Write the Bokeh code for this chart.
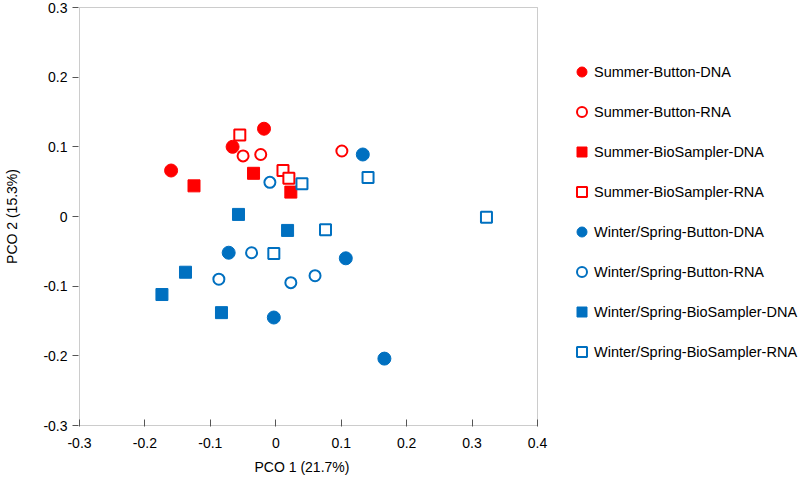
from bokeh.plotting import figure
from bokeh.models import (Legend, LegendItem, FixedTicker, CustomJSTickFormatter, Range1d,
                          BoxAnnotation, Title)
from bokeh.embed import file_html
from bokeh.resources import INLINE

# ---- data ----
sum_btn_dna_x = [-0.160, -0.066, -0.018]
sum_btn_dna_y = [0.066, 0.100, 0.126]
sum_btn_rna_x = [-0.050, -0.023, 0.101]
sum_btn_rna_y = [0.087, 0.089, 0.094]
sum_bio_dna_x = [-0.125, -0.034, 0.023]
sum_bio_dna_y = [0.044, 0.062, 0.035]
sum_bio_rna_x = [-0.055, 0.011, 0.020]
sum_bio_rna_y = [0.117, 0.066, 0.055]
win_btn_dna_x = [0.133, -0.072, -0.003, 0.107, 0.166]
win_btn_dna_y = [0.089, -0.052, -0.145, -0.060, -0.204]
win_btn_rna_x = [-0.009, -0.037, -0.087, 0.023, 0.060]
win_btn_rna_y = [0.049, -0.052, -0.090, -0.095, -0.085]
win_bio_dna_x = [-0.057, 0.018, -0.138, -0.174, -0.083]
win_bio_dna_y = [0.003, -0.020, -0.080, -0.112, -0.138]
win_bio_rna_x = [0.040, 0.141, 0.076, 0.322, -0.003]
win_bio_rna_y = [0.047, 0.056, -0.019, -0.001, -0.053]

x_ticks = [-0.3, -0.2, -0.1, 0, 0.1, 0.2, 0.3, 0.4]
y_ticks = [-0.3, -0.2, -0.1, 0, 0.1, 0.2, 0.3]
x_lo, x_hi = -0.3, 0.4
y_lo, y_hi = -0.3, 0.3

RED = "#FF0000"
BLUE = "#0070C0"
FONT = "Liberation Sans"
EDGE = "#555555"

series = [
    ("Summer-Button-DNA", sum_btn_dna_x, sum_btn_dna_y, "circle", RED, True),
    ("Summer-Button-RNA", sum_btn_rna_x, sum_btn_rna_y, "circle", RED, False),
    ("Summer-BioSampler-DNA", sum_bio_dna_x, sum_bio_dna_y, "square", RED, True),
    ("Summer-BioSampler-RNA", sum_bio_rna_x, sum_bio_rna_y, "square", RED, False),
    ("Winter/Spring-Button-DNA", win_btn_dna_x, win_btn_dna_y, "circle", BLUE, True),
    ("Winter/Spring-Button-RNA", win_btn_rna_x, win_btn_rna_y, "circle", BLUE, False),
    ("Winter/Spring-BioSampler-DNA", win_bio_dna_x, win_bio_dna_y, "square", BLUE, True),
    ("Winter/Spring-BioSampler-RNA", win_bio_rna_x, win_bio_rna_y, "square", BLUE, False),
]

# plot box: 458 px wide for 0.7 units, 418 px tall for 0.6 units; frame widened to hold legend
FRAME_L, FRAME_T, FRAME_B = 78, 6, 426
W, H = 800, 488
dx = (x_hi - x_lo) / 458.0
dy = (y_hi - y_lo) / 418.0
x_start = x_lo - dx
x_end = x_start + (W - FRAME_L) * dx
y_start = y_lo - dy
y_end = y_hi + dy

p = figure(width=W, height=H, output_backend="svg", toolbar_location=None,
           x_range=Range1d(x_start, x_end), y_range=Range1d(y_start, y_end),
           min_border_left=FRAME_L, min_border_right=0, min_border_top=FRAME_T,
           min_border_bottom=H - FRAME_B)
p.grid.visible = False
p.outline_line_color = None
p.background_fill_color = "white"
p.border_fill_color = "white"

p.add_layout(BoxAnnotation(left=x_lo, right=x_hi, bottom=y_lo, top=y_hi,
                           fill_alpha=0, line_color=EDGE, line_width=1, level="underlay"))

items = []
for name, xs, ys, marker, color, filled in series:
    if filled:
        size = 13 if marker == "circle" else 12
        r = p.scatter(xs, ys, marker=marker, size=size, fill_color=color, line_color=color, line_width=1)
    else:
        r = p.scatter(xs, ys, marker=marker, size=11, fill_color="white", line_color=color, line_width=2)
    items.append(LegendItem(label=name, renderers=[r]))

fmt = CustomJSTickFormatter(code="return Math.abs(tick) < 1e-9 ? '0' : tick.toFixed(1);")
p.xaxis.ticker = FixedTicker(ticks=x_ticks)
p.yaxis.ticker = FixedTicker(ticks=y_ticks)
p.xaxis.formatter = fmt
p.yaxis.formatter = fmt
p.xaxis.minor_tick_line_color = None
p.yaxis.minor_tick_line_color = None
p.xaxis.major_tick_in = 7
p.xaxis.major_tick_out = 0
p.yaxis.major_tick_in = 0
p.yaxis.major_tick_out = 6
for ax in (p.xaxis, p.yaxis):
    ax.axis_line_color = None
    ax.major_tick_line_color = EDGE
    ax.major_label_text_font = FONT
    ax.major_label_text_font_size = "14px"
    ax.major_label_text_color = "black"
    ax.axis_label_text_font = FONT
    ax.axis_label_text_font_size = "14px"
    ax.axis_label_text_font_style = "normal"
    ax.axis_label_text_color = "black"
p.xaxis.major_label_standoff = 11
p.yaxis.major_label_standoff = 5
p.yaxis.axis_label = "PCO 2 (15.3%)"
p.yaxis.axis_label_standoff = 20

xtitle = Title(text="PCO 1 (21.7%)", align="left", offset=176, standoff=12,
               vertical_align="bottom",
               text_font=FONT, text_font_size="14px", text_font_style="normal", text_color="black")
p.add_layout(xtitle, "below")

legend = Legend(items=items, location=(491, 62), orientation="vertical",
                glyph_width=25, glyph_height=25, label_height=25, spacing=15,
                padding=0, margin=0, label_standoff=0,
                label_text_font=FONT, label_text_font_size="14.5px", label_text_color="black",
                border_line_color=None, background_fill_alpha=0)
p.add_layout(legend, "center")

open("out.html", "w").write(file_html(p, INLINE))
